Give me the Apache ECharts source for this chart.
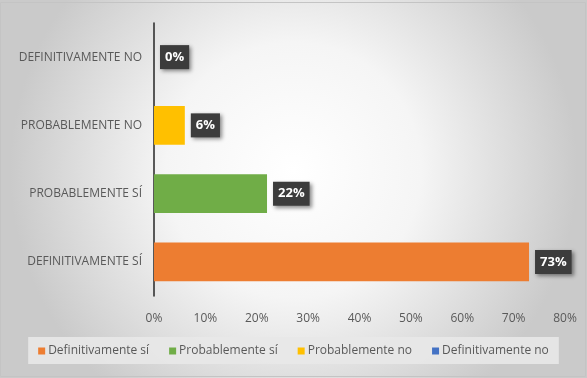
<!DOCTYPE html>
<html>
<head>
<meta charset="utf-8">
<script src="https://cdn.jsdelivr.net/npm/echarts@6/dist/echarts.min.js"></script>
<style>
  html, body { margin: 0; padding: 0; background: #fff; }
  #chart { width: 587px; height: 378px; }
</style>
</head>
<body>
<div id="chart"></div>
<script>
// Survey answers, bottom to top on the category axis
const categories = ['DEFINITIVAMENTE SÍ', 'PROBABLEMENTE SÍ', 'PROBABLEMENTE NO', 'DEFINITIVAMENTE NO'];
const seriesNames = ['Definitivamente sí', 'Probablemente sí', 'Probablemente no', 'Definitivamente no'];
const shares = [73, 22, 6, 0];
const colors = ['#ED7D31', '#70AD47', '#FFC000', '#4472C4'];
const xTicks = [0, 10, 20, 30, 40, 50, 60, 70, 80];

const fontFamily = '"Open Sans", sans-serif';

const chart = echarts.init(document.getElementById('chart'), null, { renderer: 'canvas' });

// one series per answer, each holding a value only in its own row
const series = seriesNames.map((name, i) => ({
  name: name,
  type: 'bar',
  stack: 'total',
  barWidth: '57%',
  itemStyle: { color: colors[i] },
  data: categories.map((c, j) => (j === i ? shares[i] : '-')),
  label: {
    show: true,
    position: 'right',
    distance: 6,
    formatter: p => p.value + '%',
    color: '#ffffff',
    fontWeight: 'bold',
    fontSize: 13,
    fontFamily: fontFamily,
    backgroundColor: '#3c3c3c',
    padding: [6, 5, 5, 5],
    shadowColor: 'rgba(0,0,0,0.45)',
    shadowBlur: 4,
    shadowOffsetX: 2,
    shadowOffsetY: 2
  }
}));

chart.setOption({
  animation: false,
  backgroundColor: {
    type: 'radial', x: 0.5, y: 0.45, r: 0.75,
    colorStops: [
      { offset: 0, color: '#ffffff' },
      { offset: 0.45, color: '#f5f5f5' },
      { offset: 1, color: '#cacaca' }
    ]
  },
  graphic: [{
    type: 'rect',
    shape: { x: 0.5, y: 2.5, width: 585, height: 374 },
    style: { fill: 'none', stroke: '#c4c4c4', lineWidth: 1 },
    silent: true
  }],
  grid: { left: 154, right: 22, top: 23, bottom: 82, containLabel: false },
  legend: {
    top: 337,
    left: 'center',
    data: seriesNames,
    icon: 'rect',
    itemWidth: 7,
    itemHeight: 7,
    itemGap: 20,
    backgroundColor: 'rgba(232,232,232,0.9)',
    padding: [8, 10, 7, 10],
    textStyle: { color: '#595959', fontSize: 12, fontFamily: fontFamily, padding: [0, 0, 0, -2] }
  },
  xAxis: {
    type: 'value',
    min: xTicks[0],
    max: xTicks[xTicks.length - 1],
    interval: 10,
    splitLine: { show: false },
    axisLine: { show: false },
    axisTick: { show: false },
    axisLabel: {
      formatter: v => v + '%',
      color: '#595959',
      fontSize: 12,
      fontFamily: fontFamily,
      margin: 17
    }
  },
  yAxis: {
    type: 'category',
    data: categories,
    axisLine: { show: true, lineStyle: { color: '#262626', width: 1.5 } },
    axisTick: { show: false },
    axisLabel: {
      color: '#595959',
      fontSize: 12,
      fontFamily: fontFamily,
      margin: 12
    }
  },
  series: series
});
</script>
</body>
</html>
